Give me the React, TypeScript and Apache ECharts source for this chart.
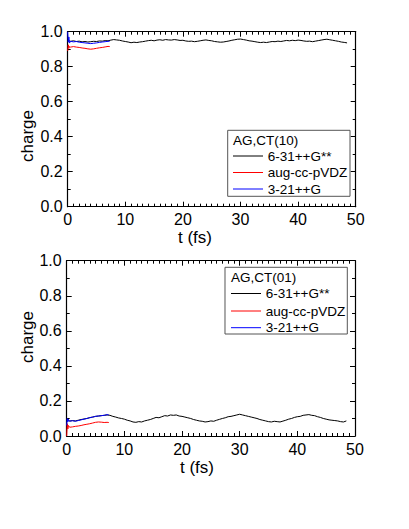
import React, { useEffect, useRef } from "react";
import * as echarts from "echarts";

const xTicks = [0, 10, 20, 30, 40, 50];
const yTicks = [0.0, 0.2, 0.4, 0.6, 0.8, 1.0];
const seriesNames = ["6-31++G**", "aug-cc-pVDZ", "3-21++G"];
const seriesColors = ["#000000", "#ff0000", "#0000ff"];
const panelTitles = ["AG,CT(10)", "AG,CT(01)"];

// sampling step (fs) of the long 6-31++G** runs
const longStep = 0.5;

// top panel, 6-31++G**
const topBlack = [
  0.95, 0.945, 0.948, 0.944, 0.946, 0.942, 0.944, 0.941, 0.943, 0.945,
  0.944, 0.947, 0.946, 0.949, 0.948, 0.952, 0.955, 0.953, 0.951, 0.947,
  0.944, 0.941, 0.937, 0.94, 0.938, 0.941, 0.943, 0.946, 0.949, 0.951,
  0.948, 0.952, 0.954, 0.951, 0.955, 0.953, 0.952, 0.955, 0.953, 0.95,
  0.951, 0.947, 0.945, 0.946, 0.943, 0.945, 0.948, 0.951, 0.953, 0.95,
  0.948, 0.944, 0.942, 0.94, 0.941, 0.944, 0.947, 0.951, 0.954, 0.957,
  0.958, 0.955, 0.952, 0.948, 0.946, 0.943, 0.94, 0.938, 0.94, 0.938,
  0.941, 0.944, 0.943, 0.946, 0.944, 0.947, 0.95, 0.948, 0.951, 0.949,
  0.952, 0.95, 0.947, 0.945, 0.946, 0.943, 0.946, 0.949, 0.952, 0.955,
  0.957, 0.954, 0.951, 0.948, 0.945, 0.941, 0.939, 0.936,
];

// bottom panel, 6-31++G**
const bottomBlack = [
  0.1, 0.085, 0.088, 0.086, 0.09, 0.094, 0.097, 0.1, 0.105, 0.108,
  0.112, 0.114, 0.116, 0.118, 0.12, 0.118, 0.112, 0.108, 0.103, 0.1,
  0.096, 0.09, 0.086, 0.08, 0.078, 0.082, 0.08, 0.086, 0.09, 0.094,
  0.1, 0.106, 0.104, 0.11, 0.116, 0.114, 0.12, 0.118, 0.12, 0.114,
  0.112, 0.108, 0.104, 0.1, 0.094, 0.09, 0.086, 0.084, 0.08, 0.082,
  0.086, 0.084, 0.09, 0.095, 0.1, 0.104, 0.11, 0.112, 0.116, 0.12,
  0.124, 0.12, 0.116, 0.112, 0.108, 0.104, 0.1, 0.094, 0.09, 0.086,
  0.082, 0.08, 0.084, 0.082, 0.08, 0.085, 0.09, 0.096, 0.1, 0.106,
  0.11, 0.112, 0.118, 0.12, 0.122, 0.118, 0.116, 0.11, 0.106, 0.1,
  0.096, 0.092, 0.09, 0.088, 0.086, 0.082, 0.08, 0.086,
];

// short runs (aug-cc-pVDZ, 3-21++G)
const shortTimes = [0, 0.1, 0.2, 0.3, 0.5, 1, 1.5, 2, 2.5, 3, 3.5, 4, 4.5, 5, 5.5, 6, 6.5, 7, 7.3];
const topRed = [0.89, 0.925, 0.905, 0.915, 0.912, 0.915, 0.912, 0.91, 0.907, 0.905, 0.902, 0.9, 0.902, 0.905, 0.908, 0.91, 0.913, 0.916, 0.915];
const topBlue = [1.0, 0.94, 0.97, 0.935, 0.945, 0.942, 0.944, 0.94, 0.938, 0.936, 0.934, 0.932, 0.934, 0.936, 0.939, 0.941, 0.943, 0.945, 0.946];
const bottomRed = [0.0, 0.07, 0.04, 0.06, 0.05, 0.052, 0.055, 0.057, 0.06, 0.064, 0.067, 0.07, 0.074, 0.078, 0.08, 0.079, 0.077, 0.078, 0.077];
const bottomBlue = [0.06, 0.1, 0.08, 0.095, 0.085, 0.087, 0.084, 0.088, 0.092, 0.096, 0.1, 0.104, 0.108, 0.112, 0.114, 0.116, 0.118, 0.122, 0.12];

const FONT = "Liberation Sans, Arial, sans-serif";

function longPairs(vals: number[]) {
  return vals.map((v, i) => [i * longStep, v]);
}
function shortPairs(vals: number[]) {
  return vals.map((v, i) => [shortTimes[i], v]);
}

export default function App() {
  const ref = useRef<HTMLDivElement>(null);
  useEffect(() => {
    if (!ref.current) return;
    const chart = echarts.init(ref.current, undefined, { renderer: "svg" });

    const grids = [
      { left: 67.7, top: 31.7, width: 288, height: 175 },
      { left: 66.7, top: 260.7, width: 288.3, height: 175.3 },
    ];

    const axisCommon = {
      axisLine: { show: true, onZero: false, lineStyle: { color: "#000", width: 1.2 } },
      splitLine: { show: false },
    };

    const xAxes: any[] = [];
    const yAxes: any[] = [];
    [0, 1].forEach((g) => {
      ["bottom", "top"].forEach((pos) => {
        xAxes.push({
          ...axisCommon,
          gridIndex: g,
          type: "value",
          position: pos,
          min: xTicks[0],
          max: xTicks[xTicks.length - 1],
          interval: xTicks[1] - xTicks[0],
          axisTick: { show: true, inside: true, length: 5, lineStyle: { color: "#000", width: 1 } },
          minorTick: { show: true, splitNumber: 10, length: 3, lineStyle: { color: "#000", width: 1 } },
          axisLabel: {
            show: pos === "bottom",
            margin: 5,
            color: "#000",
            fontSize: 16,
            fontFamily: FONT,
          },
        });
      });
      ["left", "right"].forEach((pos) => {
        yAxes.push({
          ...axisCommon,
          gridIndex: g,
          type: "value",
          position: pos,
          min: yTicks[0],
          max: yTicks[yTicks.length - 1],
          interval: 0.2,
          axisTick: { show: true, inside: true, length: 5, lineStyle: { color: "#000", width: 1 } },
          minorTick: { show: true, splitNumber: 2, length: 3, lineStyle: { color: "#000", width: 1 } },
          axisLabel: {
            show: pos === "left",
            margin: 5,
            color: "#000",
            fontSize: 16,
            fontFamily: FONT,
            formatter: (v: number) => v.toFixed(1),
          },
        });
      });
    });

    const mk = (name: string, color: string, g: number, data: number[][]) => ({
      type: "line",
      name,
      xAxisIndex: g * 2,
      yAxisIndex: g * 2,
      data,
      showSymbol: false,
      symbol: "none",
      lineStyle: { color, width: 1 },
      itemStyle: { color },
      z: 3,
    });

    const series = [
      mk(seriesNames[0], seriesColors[0], 0, longPairs(topBlack)),
      mk(seriesNames[1], seriesColors[1], 0, shortPairs(topRed)),
      mk(seriesNames[2], seriesColors[2], 0, shortPairs(topBlue)),
      mk(seriesNames[0], seriesColors[0], 1, longPairs(bottomBlack)),
      mk(seriesNames[1], seriesColors[1], 1, shortPairs(bottomRed)),
      mk(seriesNames[2], seriesColors[2], 1, shortPairs(bottomBlue)),
    ];

    const legendBoxes = [
      { x: 227.7, y: 130.3, w: 122.3, h: 66, titleY: 140.5, rows: [156, 172.5, 189], lineX: 233, textX: 267.7 },
      { x: 225, y: 267.3, w: 122.3, h: 66.7, titleY: 277.5, rows: [293.5, 311, 327.7], lineX: 231, textX: 265.7 },
    ];

    const graphic: any[] = [];
    legendBoxes.forEach((b, i) => {
      graphic.push({
        type: "rect",
        shape: { x: b.x, y: b.y, width: b.w, height: b.h },
        style: { fill: "#fff", stroke: "#555", lineWidth: 1 },
        z: 10,
      });
      graphic.push({
        type: "text",
        x: b.lineX,
        y: b.titleY,
        style: { text: panelTitles[i], fill: "#000", font: `13.5px ${FONT}`, textVerticalAlign: "middle", textAlign: "left" },
        z: 11,
      });
      b.rows.forEach((ry, k) => {
        graphic.push({
          type: "line",
          shape: { x1: b.lineX, y1: ry, x2: b.lineX + 30, y2: ry },
          style: { stroke: seriesColors[k], lineWidth: 1 },
          z: 11,
        });
        graphic.push({
          type: "text",
          x: b.textX,
          y: ry,
          style: { text: seriesNames[k], fill: "#000", font: `13.5px ${FONT}`, textVerticalAlign: "middle", textAlign: "left" },
          z: 11,
        });
      });
    });

    // axis names
    const yNames = [136, 337];
    const xNames = [{ x: 195, y: 237.5 }, { x: 197, y: 467.5 }];
    [0, 1].forEach((g) => {
      graphic.push({
        type: "text",
        x: 27,
        y: yNames[g],
        rotation: Math.PI / 2,
        style: { text: "charge", fill: "#000", font: `17px ${FONT}`, textAlign: "center", textVerticalAlign: "middle" },
      });
      graphic.push({
        type: "text",
        x: xNames[g].x,
        y: xNames[g].y,
        style: { text: "t (fs)", fill: "#000", font: `17px ${FONT}`, textAlign: "center", textVerticalAlign: "middle" },
      });
    });

    chart.setOption({
      animation: false,
      backgroundColor: "#fff",
      grid: grids,
      xAxis: xAxes,
      yAxis: yAxes,
      series,
      graphic,
    });
    return () => chart.dispose();
  }, []);

  return (
    <div
      ref={ref}
      style={{ position: "fixed", left: 0, top: 0, width: 409, height: 529, background: "#fff" }}
    />
  );
}
